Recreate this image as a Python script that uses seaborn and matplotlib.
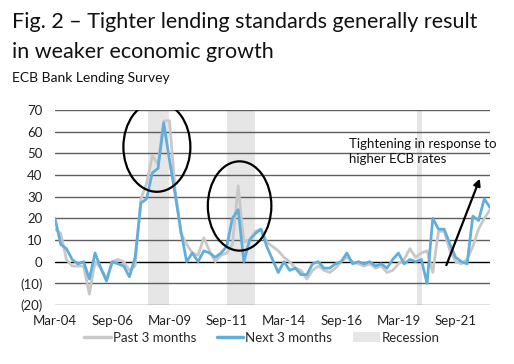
import matplotlib
matplotlib.use("Agg")
import matplotlib.pyplot as plt
from matplotlib.patches import Ellipse, Patch
from matplotlib.lines import Line2D
import seaborn as sns
import numpy as np
import pandas as pd

# ---- data (quarterly, Mar-04 .. Mar-23) ----
past_3m = [15, 13, 1, -2, -2, -2, -15, 0, -3, -8,
           0, 1, 0, -4, -2, 29, 36, 49, 45, 65,
           65, 33, 13, 8, 4, 3, 11, 5, 0, 3,
           4, 8, 35, 9, 10, 14, 15, 9, 7, 5,
           2, 0, -3, -4, -8, -4, -2, -4, -5, -3,
           0, 2, 0, -1, -2, -1, -3, -2, -5, -4,
           -1, 1, 6, 2, 4, 5, -5, 14, 14, 5,
           0, -1, 1, 7, 15, 20, 24]
next_3m = [20, 8, 6, 1, -1, 0, -8, 4, -3, -9,
           0, -1, -2, -7, 2, 27, 29, 41, 43, 64,
           47, 31, 14, 0, 4, 0, 5, 4, 2, 4,
           7, 20, 24, 0, 10, 13, 15, 7, 1, -5,
           0, -4, -3, -6, -6, -1, 0, -3, -3, -1,
           0, 4, -1, 0, -1, 0, -2, -1, -3, 1,
           4, -1, 1, 0, 1, -10, 20, 15, 15, 8,
           2, 0, -1, 21, 19, 29, 25]
quarter_idx = list(range(len(next_3m)))
tick_idx = [0, 10, 20, 30, 40, 50, 60, 70]
tick_labels = ["Mar-04", "Sep-06", "Mar-09", "Sep-11", "Mar-14", "Sep-16", "Mar-19", "Sep-21"]
y_ticks = [70, 60, 50, 40, 30, 20, 10, 0, -10, -20]
y_labels = ["70", "60", "50", "40", "30", "20", "10", "0", "(10)", "(20)"]
# recession periods (quarter index start, end)
rec_start = [16.2, 30.0, 63.2]
rec_end = [20.0, 35.0, 64.15]

df = pd.DataFrame({"q": quarter_idx * 2,
                   "value": past_3m + next_3m,
                   "series": ["Past 3 months"] * len(past_3m) + ["Next 3 months"] * len(next_3m)})

sns.set_theme(style="white")
plt.rcParams["font.family"] = ["Lato", "DejaVu Sans"]

GRAY = "#c8c8c8"
BLUE = "#62aedb"
REC = "#e6e6e6"

fig = plt.figure(figsize=(5.14, 3.64), dpi=100)
ax = fig.add_axes([55 / 514, 1 - 305 / 364, (490 - 55) / 514, (305 - 110) / 364])

for s, e in zip(rec_start, rec_end):
    ax.axvspan(s, e, color=REC, lw=0, zorder=0)

for yv in y_ticks:
    ax.axhline(yv, color="black" if yv == 0 else "#5e5e5e", lw=1.0, zorder=1)

sns.lineplot(data=df, x="q", y="value", hue="series",
             palette={"Past 3 months": GRAY, "Next 3 months": BLUE},
             linewidth=2.0, ax=ax, legend=False, zorder=3)

ax.set_xlim(0, len(next_3m) - 1)
ax.set_ylim(-20, 70)
ax.set_xticks(tick_idx)
ax.set_xticklabels(tick_labels, fontsize=9.5, color="#222222")
ax.set_yticks(y_ticks)
ax.set_yticklabels(y_labels, fontsize=9.5, color="#222222")
ax.tick_params(axis="x", length=0, pad=7)
ax.tick_params(axis="y", length=0, pad=9)
ax.set_xlabel("")
ax.set_ylabel("")
for sp in ax.spines.values():
    sp.set_visible(False)

# annotations
ax.add_patch(Ellipse((17.8, 53), 11.7, 41.5, fill=False, ec="black", lw=1.6, zorder=4))
ax.add_patch(Ellipse((32.25, 25.7), 11.1, 41.2, fill=False, ec="black", lw=1.6, zorder=4))
ax.annotate("", xy=(74.4, 39.5), xytext=(68.2, -2.8),
            arrowprops=dict(arrowstyle="-|>", color="black", lw=1.6, mutation_scale=10),
            zorder=5)
ax.text(51.4, 57, "Tightening in response to\nhigher ECB rates", fontsize=9.5,
        va="top", ha="left", color="#111111", linespacing=1.3, zorder=5)

# titles
fig.text(12 / 514, 1 - 28.5 / 364, "Fig. 2 \u2013 Tighter lending standards generally result",
         fontsize=15.5, va="baseline", ha="left", color="#111111")
fig.text(12 / 514, 1 - 58.5 / 364, "in weaker economic growth",
         fontsize=15.5, va="baseline", ha="left", color="#111111")
fig.text(12 / 514, 1 - 81.5 / 364, "ECB Bank Lending Survey",
         fontsize=10, va="baseline", ha="left", color="#111111")

handles = [Line2D([], [], color=GRAY, lw=2.5),
           Line2D([], [], color=BLUE, lw=2.5),
           Patch(facecolor=REC, edgecolor="none")]
fig.legend(handles, ["Past 3 months", "Next 3 months", "Recession"],
           loc="center", bbox_to_anchor=(262 / 514, 1 - 338 / 364), ncol=3,
           frameon=False, fontsize=9.5, handlelength=2.0, handletextpad=0.15,
           columnspacing=1.6, handleheight=0.8)

fig.savefig("out.png", dpi=100, facecolor="white")
